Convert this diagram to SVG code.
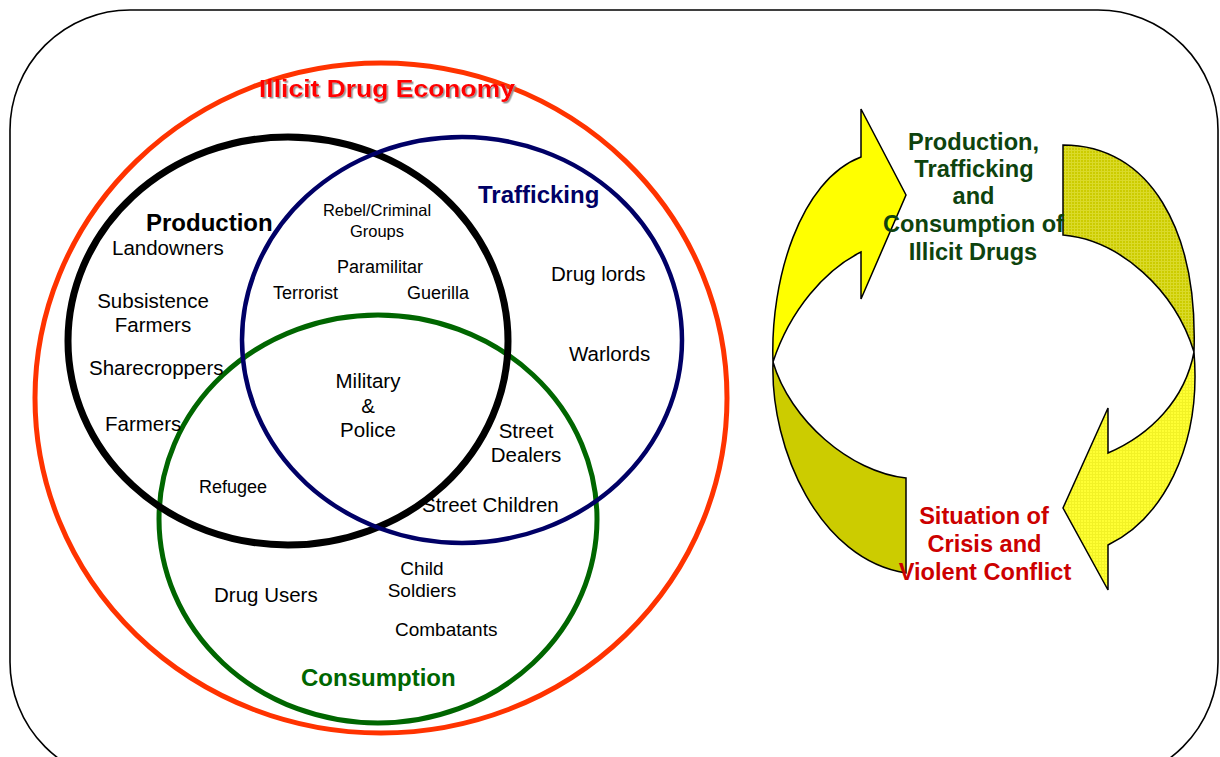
<svg xmlns="http://www.w3.org/2000/svg" width="1220" height="757" viewBox="0 0 1220 757">
<defs>
<style>
text{font-family:"Liberation Sans",Arial,sans-serif;}
.t{font-size:20.5px;fill:#000;}
.s{font-size:18px;fill:#000;}
.xs{font-size:16.5px;fill:#000;}
.m{font-size:19px;fill:#000;}
.b{font-weight:bold;font-size:24px;}
.rb{font-weight:bold;font-size:23.6px;text-anchor:middle;}
.c{text-anchor:middle;}
.ring{fill:none;}
.arrow{stroke:#000;stroke-width:1.5;stroke-linejoin:miter;}
</style>
<filter id="shadow" x="-5%" y="-20%" width="110%" height="150%">
<feDropShadow dx="1.5" dy="1.5" stdDeviation="0.6" flood-color="#8a8a8a" flood-opacity="0.9"/>
</filter>
<pattern id="gridOlive" width="3" height="3" patternUnits="userSpaceOnUse">
<rect width="3" height="3" fill="#CCCC00"/>
<path d="M0 0.5H3M0.5 0V3" stroke="#DADA2A" stroke-width="1"/>
</pattern>
<pattern id="gridYellow" width="3" height="3" patternUnits="userSpaceOnUse">
<rect width="3" height="3" fill="#FFFF33"/>
<path d="M0 0.5H3M0.5 0V3" stroke="#F2F226" stroke-width="1"/>
</pattern>
</defs>
<rect width="1220" height="757" fill="#fff"/>
<rect id="frame" x="10" y="10" width="1208" height="772" rx="120" ry="120" fill="none" stroke="#000" stroke-width="1.6"/>

<g id="venn-economy">
<ellipse class="ring" cx="381" cy="398" rx="346" ry="335" stroke="#FF3300" stroke-width="5"/>
<text x="259" y="97" font-weight="bold" font-size="24.5" fill="#FF0000" textLength="256" lengthAdjust="spacingAndGlyphs" filter="url(#shadow)">Illicit Drug Economy</text>
</g>

<g id="venn-consumption">
<ellipse class="ring" cx="378" cy="519" rx="219" ry="204" stroke="#006600" stroke-width="5"/>
<text class="b" x="301" y="686" fill="#006600">Consumption</text>
</g>
<g id="venn-production">
<ellipse class="ring" cx="288" cy="341" rx="220" ry="204" stroke="#000" stroke-width="7"/>
<text class="b" x="146" y="231" fill="#000">Production</text>
</g>
<g id="venn-trafficking">
<ellipse class="ring" cx="462" cy="340" rx="220" ry="203" stroke="#000066" stroke-width="4.5"/>
<text class="b" x="478" y="203" fill="#000066">Trafficking</text>
</g>

<g id="actors">
<text class="t" x="112" y="255">Landowners</text>
<text class="t c" x="153" y="308">Subsistence</text>
<text class="t c" x="153" y="332">Farmers</text>
<text class="t" x="89" y="375">Sharecroppers</text>
<text class="t" x="105" y="431">Farmers</text>
<text class="xs c" x="377" y="216">Rebel/Criminal</text>
<text class="xs c" x="377" y="237">Groups</text>
<text class="s" x="337" y="273">Paramilitar</text>
<text class="s" x="273" y="299">Terrorist</text>
<text class="s" x="407" y="299">Guerilla</text>
<text class="t" x="551" y="281">Drug lords</text>
<text class="t" x="569" y="361">Warlords</text>
<text class="t c" x="368" y="388">Military</text>
<text class="t c" x="368" y="413">&amp;</text>
<text class="t c" x="368" y="437">Police</text>
<text class="t c" x="526" y="438">Street</text>
<text class="t c" x="526" y="462">Dealers</text>
<text class="t" x="422" y="512">Street Children</text>
<text class="s" x="199" y="493">Refugee</text>
<text class="t" x="214" y="602">Drug Users</text>
<text class="m c" x="422" y="575">Child</text>
<text class="m c" x="422" y="597">Soldiers</text>
<text class="m" x="395" y="636">Combatants</text>
</g>

<g id="connectors">
<path class="arrow" fill="#CCCC00" d="M773,362 C770,450 820,560 906,573 L906,478 C850,472 790,420 773,362 Z"/>
<path class="arrow" fill="#FFFF00" d="M861,157 C800,180 770,280 773,362 C790,310 825,270 861,252 L861,299 L906,195 L861,109 Z"/>
<path class="arrow" fill="url(#gridOlive)" d="M1063,145 C1150,145 1198,230 1194,352 C1175,290 1120,240 1063,235 Z"/>
<path class="arrow" fill="url(#gridYellow)" d="M1194,352 C1202,450 1160,520 1108,545 L1108,590 L1063,508 L1108,408 L1108,453 C1150,435 1185,400 1194,352 Z"/>
</g>

<g id="node-drugs">
<text class="rb" x="973.5" y="150" fill="#0E430E">Production,</text>
<text class="rb" x="974" y="177" fill="#0E430E">Trafficking</text>
<text class="rb" x="973.5" y="204" fill="#0E430E">and</text>
<text class="rb" x="973.5" y="232" fill="#0E430E">Consumption of</text>
<text class="rb" x="973" y="260" fill="#0E430E">Illicit Drugs</text>
</g>
<g id="node-conflict">
<text class="rb" x="984" y="524" fill="#CC0000">Situation of</text>
<text class="rb" x="984.5" y="552" fill="#CC0000">Crisis and</text>
<text class="rb" x="985" y="580" fill="#CC0000">Violent Conflict</text>
</g>
</svg>
